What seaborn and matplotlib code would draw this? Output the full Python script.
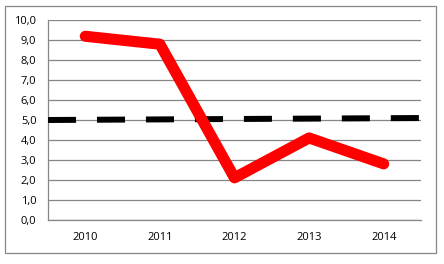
import numpy as np
import pandas as pd
import matplotlib
matplotlib.use("Agg")
import matplotlib.pyplot as plt
import seaborn as sns
from matplotlib.patches import Rectangle

years = ["2010", "2011", "2012", "2013", "2014"]
actual = [9.2, 8.8, 2.1, 4.1, 2.8]
benchmark = [5.01, 5.03, 5.05, 5.07, 5.09]
y_ticks = [0, 1, 2, 3, 4, 5, 6, 7, 8, 9, 10]

sns.set_style("white")
plt.rcParams["font.family"] = ["Open Sans", "DejaVu Sans"]

W, H = 444, 264
fig = plt.figure(figsize=(W / 100, H / 100), dpi=100)
ax = fig.add_axes([48 / W, (H - 219.7) / H, (421 - 48) / W, (219.7 - 20.3) / H])

pos = np.arange(len(years))
df = pd.DataFrame({"pos": pos, "actual": actual, "benchmark": benchmark})

# benchmark line spans the full plot width (linear extension of the series)
slope, icpt = np.polyfit(pos, benchmark, 1)
ext_x = np.array([-0.5, len(years) - 0.5])
ext = pd.DataFrame({"pos": ext_x, "benchmark": slope * ext_x + icpt})
sns.lineplot(data=ext, x="pos", y="benchmark", ax=ax, color="black",
             linewidth=4.3, sort=False, zorder=3)
ax.lines[-1].set_linestyle((0, (4.7, 3.5)))
ax.lines[-1].set_dash_capstyle("butt")

sns.lineplot(data=df, x="pos", y="actual", ax=ax, color="#ff0000",
             linewidth=8.0, sort=False, zorder=4)
ax.lines[-1].set_solid_capstyle("round")
ax.lines[-1].set_solid_joinstyle("round")

ax.set_xlim(-0.5, len(years) - 0.5)
ax.set_ylim(0, 10)
ax.set_yticks(y_ticks)
ax.set_yticklabels([f"{v:.1f}".replace(".", ",") for v in y_ticks])
ax.set_xticks(pos, labels=years)
ax.set_xticks(np.arange(-0.5, len(years), 1.0), minor=True)
ax.tick_params(axis="x", which="major", length=0, pad=9, labelsize=8, colors="black")
ax.tick_params(axis="x", which="minor", length=4, width=0.8, color="#868686", direction="out")
ax.tick_params(axis="y", length=4, width=0.8, color="#868686", direction="out",
               labelsize=8, labelcolor="black", pad=4.3)
ax.set_xlabel("")
ax.set_ylabel("")
ax.yaxis.grid(True, color="#868686", linewidth=0.9)
ax.xaxis.grid(False)
ax.set_axisbelow(True)
for s in ["top", "right"]:
    ax.spines[s].set_visible(False)
for s in ["left", "bottom"]:
    ax.spines[s].set_color("#868686")
    ax.spines[s].set_linewidth(0.9)

fig.patches.append(Rectangle((4.5 / W, (H - 253) / H), (436 - 4.5) / W, (253 - 6) / H,
                             transform=fig.transFigure, fill=False,
                             edgecolor="#868686", linewidth=0.9))

fig.savefig("out.png", dpi=100)
